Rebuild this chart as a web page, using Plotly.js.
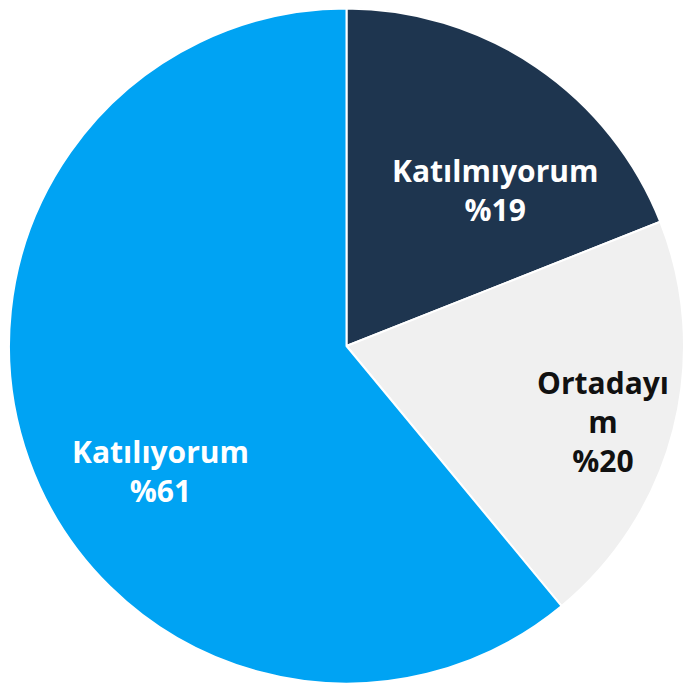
<!DOCTYPE html>
<html>
<head>
<meta charset="utf-8">
<script src="https://cdn.plot.ly/plotly-3.0.1.min.js"></script>
<style>html,body{margin:0;padding:0;background:#fff;}#chart{width:684px;height:688px;}</style>
</head>
<body>
<div id="chart"></div>
<script>
// Data
const labels = ["Katılmıyorum", "Ortadayım", "Katılıyorum"];
const values = [19, 20, 61];
const labelLines = [["Katılmıyorum"], ["Ortadayı", "m"], ["Katılıyorum"]];
const sliceColors = ["#1e354f", "#f0f0f0", "#00a3f3"];
const textColors = ["#ffffff", "#111111", "#ffffff"];

// Label placement (pixels: block center x, block center y)
const W = 684, H = 688;
const labelPos = [[495, 190], [603, 421], [160, 471]];

const annotations = labels.map((lab, i) => {
  const lines = labelLines[i].concat(["%" + values[i]]);
  return {
    text: lines.map(l => "<b>" + l + "</b>").join("<br>"),
    x: labelPos[i][0] / W,
    y: 1 - labelPos[i][1] / H,
    xref: "paper", yref: "paper",
    xanchor: "center", yanchor: "middle",
    align: "center",
    showarrow: false,
    font: {family: "Open Sans, sans-serif", size: 30, color: textColors[i]}
  };
});

const trace = {
  type: "pie",
  labels: labels,
  values: values,
  sort: false,
  direction: "clockwise",
  rotation: 0,
  textinfo: "none",
  hoverinfo: "label+percent",
  marker: {colors: sliceColors, line: {color: "#ffffff", width: 2}},
  domain: {x: [9 / W, 1], y: [3 / H, 681 / H]}
};

const layout = {
  width: W, height: H,
  margin: {l: 0, r: 0, t: 0, b: 0},
  paper_bgcolor: "#ffffff",
  showlegend: false,
  annotations: annotations
};

Plotly.newPlot("chart", [trace], layout, {displayModeBar: false, staticPlot: true});
</script>
</body>
</html>
